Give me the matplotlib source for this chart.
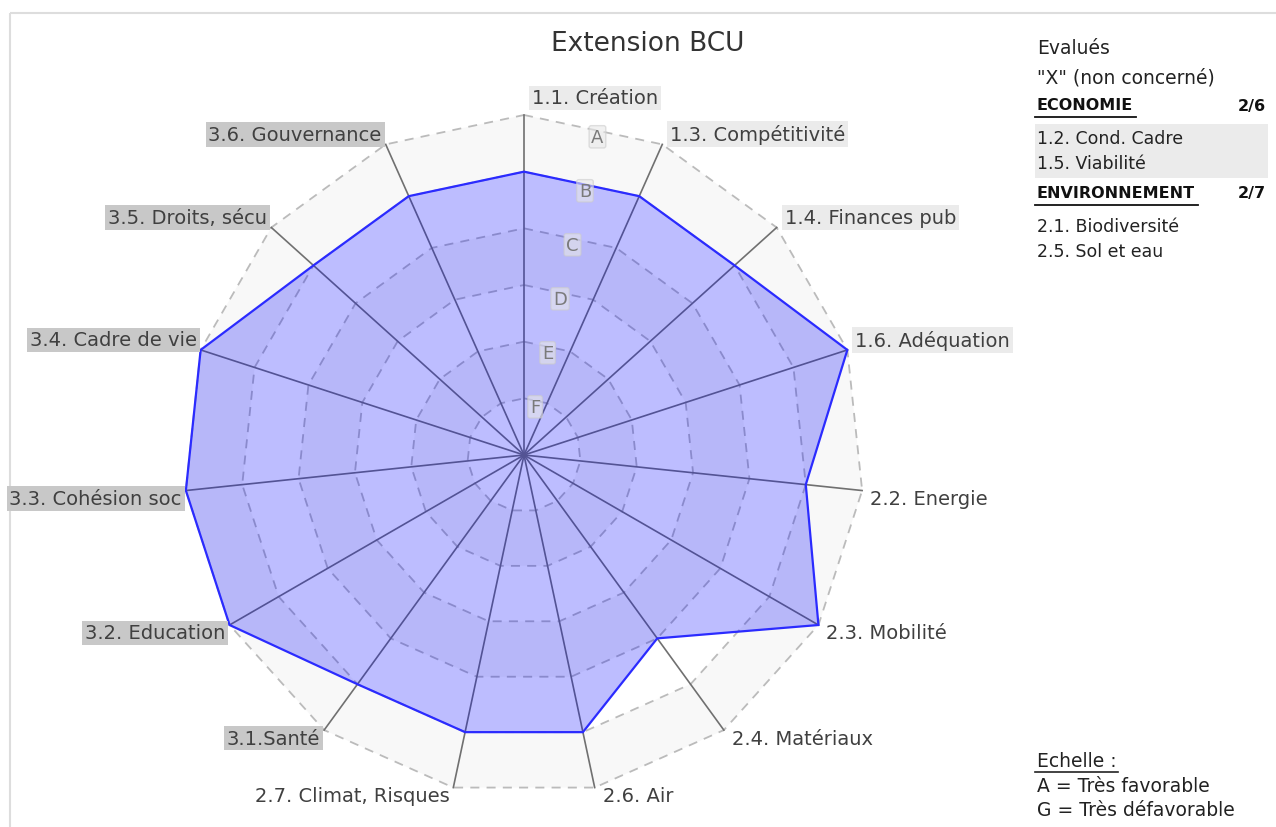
import numpy as np
import matplotlib
matplotlib.use("Agg")
import matplotlib.pyplot as plt
from matplotlib.patches import Polygon, Rectangle

plt.rcParams['font.family'] = ['DejaVu Sans']

# --- data ---
axis_labels = ['1.1. Création', '1.3. Compétitivité', '1.4. Finances pub', '1.6. Adéquation',
               '2.2. Energie', '2.3. Mobilité', '2.4. Matériaux', '2.6. Air',
               '2.7. Climat, Risques', '3.1.Santé', '3.2. Education', '3.3. Cohésion soc',
               '3.4. Cadre de vie', '3.5. Droits, sécu', '3.6. Gouvernance']
grades = ['B', 'B', 'B', 'A', 'B', 'A', 'C', 'B', 'B', 'B', 'A', 'A', 'A', 'B', 'B']
scale_letters = ['A', 'B', 'C', 'D', 'E', 'F', 'G']
ring_letters = ['F', 'E', 'D', 'C', 'B', 'A']

economie_missing = ['1.2. Cond. Cadre', '1.5. Viabilité']
environnement_missing = ['2.1. Biodiversité', '2.5. Sol et eau']
economie_count = '2/6'
environnement_count = '2/7'

# label backgrounds by theme
theme_bg = {'1': '#ebebeb', '2': 'none', '3': '#c8c8c8'}

W, H = 1276, 828
fig = plt.figure(figsize=(W / 100, H / 100), dpi=100)
ax = fig.add_axes([0, 0, 1, 1])
ax.set_xlim(0, W)
ax.set_ylim(H, 0)
ax.axis('off')

cx, cy, R = 524, 456, 340
n = len(axis_labels)
nlev = len(scale_letters) - 1
ang = np.radians(90 - 360 / n * np.arange(n))


def ring_xy(r):
    return np.column_stack([cx + r * np.cos(ang), cy - r * np.sin(ang)])


# frame
ax.add_patch(Rectangle((10, 14), 1400, 1000, fill=False, ec='#dddddd', lw=1.5, zorder=0))

# alternating bands
for k in range(nlev, 0, -1):
    col = '#f8f8f8' if (nlev - k) % 2 == 0 else 'white'
    ax.add_patch(Polygon(ring_xy(R * k / nlev), closed=True, fc=col, ec='none', zorder=1))

# dashed rings
for k in range(1, nlev + 1):
    pts = ring_xy(R * k / nlev)
    pts = np.vstack([pts, pts[:1]])
    ax.plot(pts[:, 0], pts[:, 1], color='#bbbbbb', lw=1.3, ls=(0, (5, 4)), zorder=2)

# spokes
outer = ring_xy(R)
for x, y in outer:
    ax.plot([cx, x], [cy, y], color='#707070', lw=1.2, zorder=3)

# data polygon
levels = np.array([nlev - scale_letters.index(g) for g in grades])
r_vals = R * levels / nlev
pts = np.column_stack([cx + r_vals * np.cos(ang), cy - r_vals * np.sin(ang)])
ax.add_patch(Polygon(pts, closed=True, fc='#0000ff', alpha=0.26, ec='none', zorder=4))
ax.add_patch(Polygon(pts, closed=True, fill=False, ec='#2b2bff', lw=1.6, zorder=5))

# ring letters
la = np.radians(77)
for k, letter in enumerate(ring_letters, start=1):
    rr = R * k / nlev * np.cos(np.radians(12)) - 6
    ax.text(cx + rr * np.cos(la), cy - rr * np.sin(la), letter, fontsize=13,
            color='#7a7a7a', ha='center', va='center', zorder=6,
            bbox=dict(boxstyle='round,pad=0.12', fc='#e8e8e8', ec='#cccccc', alpha=0.6, lw=1))

# axis labels
for i, lab in enumerate(axis_labels):
    x, y = outer[i]
    s = np.sin(ang[i])
    c = np.cos(ang[i])
    if c > -0.01:
        tx, ha = x + 8, 'left'
    else:
        tx, ha = x - 4, 'right'
    if i == 0:
        ty = y - 17
    elif s > 0.15:
        ty = y - 10
    else:
        ty = y + 8
    bg = theme_bg[lab[0]]
    bbox = None if bg == 'none' else dict(boxstyle='square,pad=0.15', fc=bg, ec='none')
    ax.text(tx, ty, lab, fontsize=14, color='#404040', ha=ha, va='center',
            bbox=bbox, zorder=7)

# title
ax.text(648, 44, 'Extension BCU', fontsize=19, color='#333333', ha='center', va='center')

# legend
lx, rx = 1037, 1266
tc = '#222222'
ax.text(lx, 48, 'Evalués', fontsize=13.5, color=tc, va='center')
ax.text(lx, 78, '"X" (non concerné)', fontsize=13.5, color=tc, va='center')

y = 106
for title, count, items, shade in [('ECONOMIE', economie_count, economie_missing, '#ebebeb'),
                                   ('ENVIRONNEMENT', environnement_count, environnement_missing, 'none')]:
    t = ax.text(lx, y, title, fontsize=11.5, fontweight='bold', color='#111111', va='center')
    ax.text(rx, y, count, fontsize=11.5, fontweight='bold', color='#111111', va='center', ha='right')
    fig.canvas.draw()
    bb = t.get_window_extent().transformed(ax.transData.inverted())
    ax.plot([lx - 2, bb.x1 + 3], [y + 12, y + 12], color='#111111', lw=1.3)
    if shade != 'none':
        ax.add_patch(Rectangle((lx - 2, y + 19), rx - lx + 4, 4 + 25 * len(items),
                               fc=shade, ec='none', zorder=0.5))
    for j, it in enumerate(items):
        ax.text(lx, y + 33 + 25 * j, it, fontsize=12.5, color=tc, va='center')
    y += 88

t = ax.text(lx, 762, 'Echelle :', fontsize=13.5, color=tc, va='center')
fig.canvas.draw()
bb = t.get_window_extent().transformed(ax.transData.inverted())
ax.plot([lx - 2, bb.x1 + 1], [773, 773], color=tc, lw=1.2)
ax.text(lx, 787, 'A = Très favorable', fontsize=13.5, color=tc, va='center')
ax.text(lx, 811, 'G = Très défavorable', fontsize=13.5, color=tc, va='center')

fig.savefig('out.png', dpi=100)
